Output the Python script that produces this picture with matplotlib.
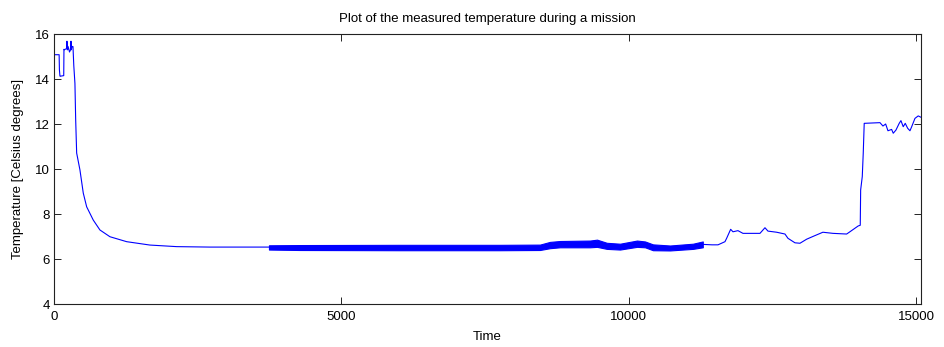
import numpy as np
import matplotlib.pyplot as plt

# temperature log: time index and degrees C, ten samples per row
time = [0, 90, 95, 104, 112, 122, 170, 174, 178, 220,
        226, 232, 238, 244, 262, 270, 290, 296, 302, 313,
        331, 345, 365, 378, 395, 452, 510, 569, 684, 800,
        974, 1265, 1670, 2135, 2714, 3200, 3741, 8457, 8630, 9450,
        9850, 10145, 10423, 10720, 11120, 11290, 11450, 11555, 11676, 11705,
        11775, 11815, 11902, 11989, 12285, 12372, 12424, 12575, 12720, 12772,
        12894, 12981, 13097, 13223, 13380, 13555, 13793, 13850, 13995, 14030,
        14037, 14065, 14082, 14099, 14373, 14425, 14472, 14512, 14576, 14604,
        14651, 14708, 14738, 14778, 14813, 14855, 14895, 14925, 14982, 15039,
        15086]
temp = [15.08, 15.08, 14.4, 14.13, 14.12, 14.13, 14.15, 15.32, 15.3, 15.35,
        15.68, 15.3, 15.3, 15.45, 15.3, 15.2, 15.3, 15.68, 15.3, 15.45,
        15.44, 14.6, 13.8, 12.18, 10.71, 9.96, 8.93, 8.32, 7.73, 7.29,
        6.99, 6.77, 6.62, 6.55, 6.53, 6.53, 6.53, 6.52, 6.62, 6.7,
        6.55, 6.68, 6.52, 6.49, 6.56, 6.65, 6.63, 6.63, 6.77, 6.92,
        7.32, 7.21, 7.26, 7.14, 7.14, 7.39, 7.24, 7.19, 7.11, 6.92,
        6.72, 6.70, 6.88, 7.02, 7.19, 7.14, 7.11, 7.21, 7.47, 7.5,
        9.07, 9.66, 10.7, 12.03, 12.06, 11.91, 12.0, 11.70, 11.76, 11.59,
        11.73, 12.03, 12.15, 11.88, 12.03, 11.81, 11.70, 11.88, 12.25, 12.36,
        12.30]

# noisy stretch of the log, kept as its lower/upper envelope
band_time = [3741, 4280, 6020, 7760, 8457, 8630, 8805, 9327, 9450, 9620,
             9850, 10145, 10285, 10423, 10720, 11120, 11290]
band_low = [6.42, 6.40, 6.39, 6.39, 6.40, 6.48, 6.52, 6.52, 6.54, 6.45,
            6.42, 6.54, 6.52, 6.39, 6.38, 6.45, 6.52]
band_high = [6.61, 6.62, 6.63, 6.63, 6.64, 6.76, 6.80, 6.82, 6.86, 6.72,
             6.68, 6.82, 6.78, 6.65, 6.60, 6.68, 6.78]

plt.rcParams['font.family'] = ['Liberation Sans', 'DejaVu Sans']

fig = plt.figure(figsize=(9.45, 3.47), dpi=100)
ax = fig.add_axes([0.0571, 0.1239, 0.9175, 0.7781])

ax.plot(time, temp, color='#0000ff', linewidth=0.8)
ax.fill_between(band_time, band_low, band_high, color='#0000ff',
                edgecolor='#0000ff', linewidth=0.8)

ax.set_xlim(0, 15087)
ax.set_ylim(4, 16)
ax.set_xticks([0, 5000, 10000, 15000])
ax.set_yticks([4, 6, 8, 10, 12, 14, 16])
ax.tick_params(direction='in', top=True, right=True, length=5,
               width=0.6, labelsize=9.5, pad=3)
ax.tick_params(axis='x', pad=5)
for s in ax.spines.values():
    s.set_linewidth(0.8)
    s.set_color('#222222')

ax.set_xlabel('Time', fontsize=9.5, labelpad=6)
ax.set_ylabel('Temperature [Celsius degrees]', fontsize=9.5, labelpad=8)
ax.set_title('Plot of the measured temperature during a mission',
             fontsize=9.5, pad=9)

fig.savefig('out.png', dpi=100)
